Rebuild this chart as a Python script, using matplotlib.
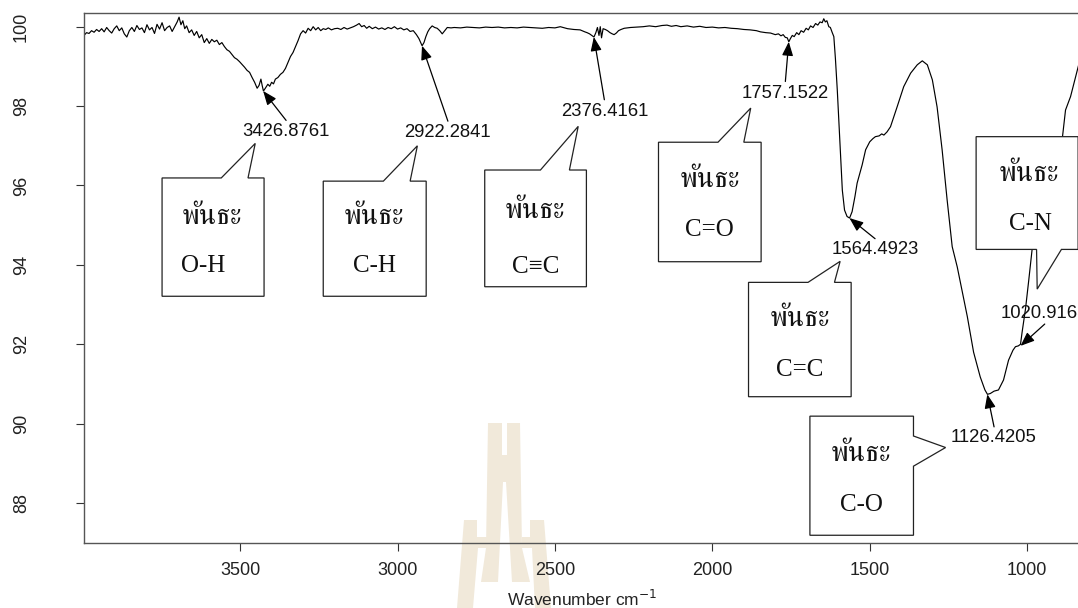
import numpy as np
import matplotlib
matplotlib.use('Agg')
import matplotlib.pyplot as plt
from matplotlib import font_manager
from matplotlib.patches import Polygon
from fontTools.ttLib import TTFont

# Spectrum (wavenumber cm-1, transmittance %)
wavenumber = [
    3996, 3988, 3980, 3972, 3964, 3956, 3948, 3940, 3932, 3924, 3916, 3908, 3900, 3892, 3884, 3876,
    3868, 3860, 3852, 3844, 3836, 3828, 3820, 3812, 3804, 3796, 3788, 3780, 3772, 3764, 3756, 3748,
    3740, 3732, 3724, 3716, 3708, 3700, 3694, 3688, 3682, 3676, 3670, 3662, 3654, 3646, 3638, 3630,
    3622, 3614, 3606, 3598, 3590, 3582, 3574, 3566, 3558, 3550, 3542, 3534, 3526, 3518, 3510, 3502,
    3494, 3486, 3478, 3470, 3462, 3454, 3446, 3440, 3434, 3430, 3426, 3420, 3412, 3406, 3400, 3394,
    3388, 3380, 3372, 3364, 3356, 3348, 3340, 3332, 3324, 3316, 3308, 3300, 3292, 3284, 3276, 3268,
    3260, 3252, 3244, 3236, 3228, 3220, 3210, 3200, 3190, 3180, 3170, 3160, 3150, 3140, 3130, 3122,
    3114, 3106, 3098, 3090, 3080, 3070, 3060, 3050, 3040, 3030, 3020, 3010, 3000, 2990, 2980, 2970,
    2960, 2950, 2940, 2932, 2922, 2916, 2910, 2904, 2898, 2890, 2882, 2874, 2866, 2858, 2850, 2842,
    2830, 2820, 2800, 2780, 2760, 2740, 2720, 2700, 2680, 2660, 2640, 2620, 2600, 2580, 2560, 2540,
    2520, 2500, 2483, 2460, 2440, 2420, 2405, 2398, 2390, 2383, 2376, 2370, 2365, 2360, 2356, 2352,
    2347, 2340, 2333, 2325, 2318, 2312, 2305, 2298, 2290, 2280, 2260, 2240, 2220, 2200, 2180, 2160,
    2144, 2130, 2115, 2100, 2080, 2060, 2040, 2020, 2000, 1980, 1960, 1940, 1920, 1900, 1880, 1860,
    1847, 1830, 1815, 1800, 1790, 1782, 1775, 1768, 1762, 1757, 1752, 1746, 1740, 1732, 1725, 1718,
    1710, 1702, 1695, 1688, 1680, 1672, 1665, 1658, 1651, 1646, 1641, 1636, 1630, 1625, 1619, 1614,
    1609, 1603, 1595, 1587, 1580, 1572, 1564, 1556, 1547, 1540, 1524, 1513, 1500, 1490, 1482, 1470,
    1462, 1455, 1445, 1434, 1413, 1392, 1370, 1349, 1333, 1317, 1301, 1286, 1270, 1254, 1238, 1222,
    1190, 1170, 1149, 1134, 1126, 1117, 1105, 1091, 1075, 1059, 1045, 1037, 1028, 1021, 1016, 1005,
    995, 984, 972, 960, 940, 920, 900, 888, 878, 862, 846, 838, 830,
]
transmittance = [
    99.78, 99.85, 99.83, 99.90, 99.86, 99.93, 99.88, 99.95, 99.87, 99.98, 99.90, 99.84, 99.95, 100.02, 99.90, 99.97,
    99.82, 99.74, 99.90, 99.98, 99.88, 100.03, 99.93, 99.97, 99.85, 100.05, 99.92, 99.98, 99.83, 100.06, 99.94, 100.10,
    99.90, 99.98, 100.02, 99.88, 100.00, 100.12, 100.24, 100.05, 100.15, 99.95, 100.02, 99.85, 99.92, 99.78, 99.88, 99.72,
    99.80, 99.60, 99.70, 99.58, 99.68, 99.62, 99.66, 99.55, 99.60, 99.50, 99.42, 99.38, 99.30, 99.22, 99.18, 99.12,
    99.05, 98.98, 98.90, 98.85, 98.72, 98.60, 98.45, 98.52, 98.68, 98.52, 98.38, 98.45, 98.55, 98.50, 98.60, 98.56,
    98.68, 98.72, 98.80, 98.85, 98.95, 99.10, 99.25, 99.35, 99.50, 99.65, 99.82, 99.90, 99.84, 99.96, 99.90, 100.00,
    99.92, 99.98, 99.90, 99.95, 99.93, 99.97, 99.92, 99.95, 99.96, 99.93, 99.98, 99.94, 99.97, 100.00, 100.04, 100.08,
    100.00, 100.03, 99.96, 100.01, 99.95, 99.99, 99.94, 99.97, 99.93, 99.98, 99.95, 100.00, 99.94, 99.97, 99.92, 99.95,
    99.88, 99.90, 99.80, 99.70, 99.52, 99.60, 99.75, 99.87, 99.95, 100.02, 99.98, 99.96, 99.90, 99.82, 99.90, 99.98,
    99.97, 99.98, 99.97, 99.99, 99.98, 99.97, 99.99, 99.98, 99.99, 99.97, 99.98, 99.97, 99.99, 99.98, 99.97, 99.96,
    99.98, 99.97, 100.00, 99.95, 99.93, 99.92, 99.87, 99.85, 99.82, 99.78, 99.74, 99.85, 99.98, 99.78, 100.00, 99.72,
    99.95, 99.93, 99.90, 99.85, 99.82, 99.80, 99.84, 99.90, 99.93, 99.96, 99.98, 99.99, 100.00, 100.02, 100.00, 100.03,
    100.04, 100.01, 100.03, 100.00, 100.02, 99.99, 100.01, 99.98, 99.99, 99.97, 99.98, 99.96, 99.95, 99.93, 99.92, 99.90,
    99.87, 99.85, 99.84, 99.80, 99.82, 99.77, 99.80, 99.73, 99.72, 99.62, 99.70, 99.78, 99.75, 99.85, 99.80, 99.90,
    99.86, 99.96, 99.92, 100.02, 99.98, 100.08, 100.04, 100.12, 100.10, 100.20, 100.12, 100.15, 100.00, 99.98, 99.85, 99.75,
    99.20, 98.40, 97.15, 95.88, 95.38, 95.22, 95.18, 95.34, 95.72, 96.06, 96.52, 96.90, 97.10, 97.18, 97.23, 97.25,
    97.30, 97.27, 97.35, 97.48, 97.98, 98.49, 98.83, 99.04, 99.14, 99.04, 98.66, 97.98, 96.90, 95.63, 94.46, 93.95,
    92.70, 91.80, 91.18, 90.85, 90.74, 90.76, 90.82, 90.85, 91.10, 91.60, 91.85, 91.94, 91.96, 92.00, 92.30, 92.90,
    93.60, 94.40, 95.30, 96.00, 96.50, 96.80, 97.00, 97.20, 97.90, 98.24, 98.74, 99.00, 99.20,
]

# Labelled peaks
peak_wn = [3426.8761, 2922.2841, 2376.4161, 1757.1522, 1564.4923, 1126.4205, 1020.9163]
peak_t = [98.38, 99.52, 99.74, 99.62, 95.18, 90.74, 91.96]
peak_text = ['3426.8761', '2922.2841', '2376.4161', '1757.1522', '1564.4923', '1126.4205', '1020.9163']

# Bond callouts
bond_word = 'พันธะ'
bond_names = ['O-H', 'C-H', 'C≡C', 'C=O', 'C=C', 'C-O', 'C-N']


def find_thai_font():
    found = []
    for path in font_manager.findSystemFonts():
        try:
            tt = TTFont(path, fontNumber=0, lazy=True)
            cmap = tt.getBestCmap()
            if cmap and 0x0E1E in cmap and 0x0E31 in cmap:
                found.append(path)
        except Exception:
            continue
    if not found:
        return None
    prefer = ['Kinnari', 'Norasi', 'Serif', 'Garuda', 'Loma', 'Thai']
    found.sort(key=lambda p: min([i for i, k in enumerate(prefer) if k.lower() in p.lower()] + [99]))
    font_manager.fontManager.addfont(found[0])
    return font_manager.FontProperties(fname=found[0]).get_name()


thai = find_thai_font()
thai_fam = [thai, 'DejaVu Sans'] if thai else ['DejaVu Sans']
sans = ['Liberation Sans', 'DejaVu Sans']
serif = ['Liberation Serif', 'DejaVu Serif']

fig = plt.figure(figsize=(10.78, 6.08), dpi=100)
fig.patch.set_facecolor('white')

# faint logo watermark behind the plot (figure pixel coords)
wm_color = '#F1E9DA'
wm_shapes = [
    [(488, 423), (502, 423), (502, 455), (507, 455), (507, 423), (520, 423), (522, 548), (530, 582),
     (512, 582), (506, 482), (503, 482), (498, 582), (481, 582), (486, 548)],
    [(464, 520), (477, 520), (477, 537), (487, 537), (487, 548), (478, 548), (473, 608), (457, 608)],
    [(530, 520), (544, 520), (551, 608), (535, 608), (532, 548), (522, 548), (522, 537), (530, 537)],
]
for shp in wm_shapes:
    pts = [(x / 1078, 1 - y / 608) for x, y in shp]
    fig.add_artist(Polygon(pts, closed=True, transform=fig.transFigure,
                           facecolor=wm_color, edgecolor='none', zorder=-5))

ax = fig.add_axes([84 / 1078, 1 - 543 / 608, (1080 - 84) / 1078, (543 - 13) / 608])
ax.set_facecolor('none')

ax.plot(wavenumber, transmittance, color='black', lw=0.85, zorder=2)

ax.set_xlim(3996, 832)
ax.set_ylim(86.995, 100.345)
ax.set_xticks([3500, 3000, 2500, 2000, 1500, 1000])
ax.set_yticks([88, 90, 92, 94, 96, 98, 100])

for side in ['left', 'top', 'bottom']:
    ax.spines[side].set_color('#555555')
    ax.spines[side].set_linewidth(1.0)
ax.spines['right'].set_visible(False)

ax.tick_params(axis='both', direction='out', length=5.5, width=0.8, color='#333333',
               labelsize=13, labelcolor='#222222')
ax.tick_params(axis='x', pad=8.5)
ax.tick_params(axis='y', pad=33.5)
for lab in ax.get_xticklabels() + ax.get_yticklabels():
    lab.set_family(sans)
for lab in ax.get_yticklabels():
    lab.set_rotation(90)
    lab.set_va('center')

ax.set_xlabel('Wavenumber cm$^{-1}$', fontsize=12.5, family=sans, color='#222222', labelpad=7)

# arrows to the peaks: tail and label positions
arrow_tail = [(3354, 97.64), (2840, 97.62), (2343, 98.16), (1768, 98.62), (1483, 94.66), (1105, 89.92), (944, 92.51)]
label_pos = [(3354, 97.36), (2843, 97.33), (2343, 97.86), (1768, 98.31), (1483, 94.39), (1105, 89.64), (944, 92.78)]

for i in range(len(peak_wn)):
    ax.annotate('', xy=(peak_wn[i], peak_t[i]), xytext=arrow_tail[i],
                arrowprops=dict(arrowstyle='-|>,head_length=0.6,head_width=0.24', color='black',
                                lw=0.9, mutation_scale=14, shrinkA=0, shrinkB=0), zorder=4)
    ax.text(label_pos[i][0], label_pos[i][1], peak_text[i], ha='center', va='center',
            fontsize=13.3, family=sans, color='#111111', zorder=5, clip_on=False)

# callout boxes: left, right, bottom, top, side of tail, tail legs, tail apex
boxes = [
    (3748, 3424, 93.21, 96.19, 'top', (3560, 3475), (3452, 97.06)),
    (3236, 2909, 93.21, 96.11, 'top', (3045, 2960), (2937, 97.00)),
    (2723, 2400, 93.45, 96.39, 'top', (2546, 2454), (2426, 97.49)),
    (2171, 1845, 94.08, 97.09, 'top', (1982, 1900), (1878, 97.95)),
    (1885, 1559, 90.68, 93.56, 'top', (1696, 1612), (1594, 94.09)),
    (1690, 1361, 87.19, 90.19, 'right', (89.69, 88.93), (1259, 89.40)),
    (1162, 838, 94.39, 97.23, 'bottom', (970, 891), (968, 93.39)),
]
word_pos = [(3589, 95.20), (3074, 95.20), (2562, 95.35), (2009, 96.12), (1722, 92.62), (1529, 89.23), (995, 96.28)]
name_pos = [(3618, 93.97), (3072, 93.97), (2562, 93.95), (2009, 94.89), (1722, 91.35), (1526, 87.95), (990, 95.02)]

for i, (l, r, b, t, side, legs, apex) in enumerate(boxes):
    if side == 'top':
        pts = [(l, b), (l, t), (legs[0], t), apex, (legs[1], t), (r, t), (r, b)]
    elif side == 'bottom':
        pts = [(l, t), (r, t), (r, b), (legs[1], b), apex, (legs[0], b), (l, b)]
    else:
        pts = [(l, b), (l, t), (r, t), (r, legs[0]), apex, (r, legs[1]), (r, b)]
    ax.add_patch(Polygon(pts, closed=True, facecolor='white', edgecolor='#222222',
                         lw=0.9, zorder=3, clip_on=False))
    ax.text(word_pos[i][0], word_pos[i][1], bond_word, ha='center', va='center',
            fontsize=21, family=thai_fam, color='#111111', zorder=5)
    ax.text(name_pos[i][0], name_pos[i][1], bond_names[i], ha='center', va='center',
            fontsize=18, family=serif, color='#111111', zorder=5)

fig.savefig('out.png', dpi=100)
